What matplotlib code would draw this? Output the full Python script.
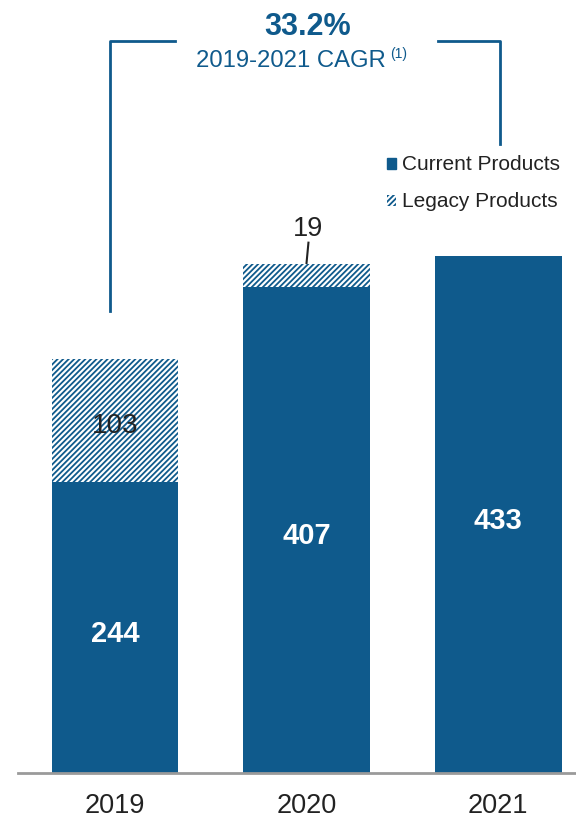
import matplotlib
matplotlib.use('Agg')
import matplotlib.pyplot as plt
from matplotlib.patches import Rectangle

plt.rcParams['font.family'] = ['Liberation Sans', 'DejaVu Sans']
plt.rcParams['hatch.linewidth'] = 1.3

years = ['2019', '2020', '2021']
current = [244, 407, 433]
legacy = [103, 19, 0]

blue = '#0f5a8c'
dark = '#222222'

fig = plt.figure(figsize=(5.76, 8.2), dpi=100)
ax = fig.add_axes([0.03125, 0.0561, 0.96875, 0.9439])

x = range(len(years))
w = 0.663
ax.bar(x, current, width=w, color=blue, linewidth=0)
plt.rcParams['hatch.color'] = blue
ax.bar(x, legacy, width=w, bottom=current, color='white', edgecolor=blue,
       hatch='//////', linewidth=0)

ax.set_xlim(-0.5065, 2.407)
ax.set_ylim(0, 648)
for s in ['top', 'right', 'left']:
    ax.spines[s].set_visible(False)
ax.spines['bottom'].set_color('#9a9a9a')
ax.spines['bottom'].set_linewidth(2)
ax.set_yticks([])
ax.set_xticks(list(x))
ax.set_xticklabels(years, fontsize=19.5, color=dark)
ax.tick_params(axis='x', length=0, pad=14)

# value labels (shifted a bit so the digits sit centred)
off = 4.5
for i in x:
    ax.text(i, current[i] / 2 - off, str(current[i]), ha='center', va='center',
            color='white', fontsize=21, fontweight='bold')
ax.text(0, current[0] + legacy[0] / 2 - off, str(legacy[0]), ha='center', va='center',
        color=dark, fontsize=20)
top1 = current[1] + legacy[1]
ax.plot([1.0, 1.01], [top1 + 1, top1 + 18], color=dark, lw=1.5)
ax.text(1.01, top1 + 30, str(legacy[1]), ha='center', va='center',
        color=dark, fontsize=19.5)

# CAGR bracket
ax.plot([-0.026, -0.026, 0.313], [387, 613, 613], color=blue, lw=2, clip_on=False)
ax.plot([1.687, 2.01, 2.01], [613, 613, 527], color=blue, lw=2, clip_on=False)
ax.text(1.003, 625, '33.2%', ha='center', va='center', color=blue,
        fontsize=22, fontweight='bold')
ax.text(0.919, 597, '2019-2021 CAGR', ha='center', va='center', color=blue,
        fontsize=17.2)
ax.text(1.436, 603, '(1)', ha='left', va='center', color=blue, fontsize=10)

# legend
ax.add_patch(Rectangle((1.418, 506), 0.05, 9, color=blue, clip_on=False))
ax.add_patch(Rectangle((1.418, 475), 0.05, 9, facecolor='white', edgecolor=blue,
                       hatch='//////', linewidth=0, clip_on=False))
ax.text(1.50, 510, 'Current Products', ha='left', va='center', color=dark, fontsize=15)
ax.text(1.50, 479, 'Legacy Products', ha='left', va='center', color=dark, fontsize=15)

fig.savefig('out.png', dpi=100)
